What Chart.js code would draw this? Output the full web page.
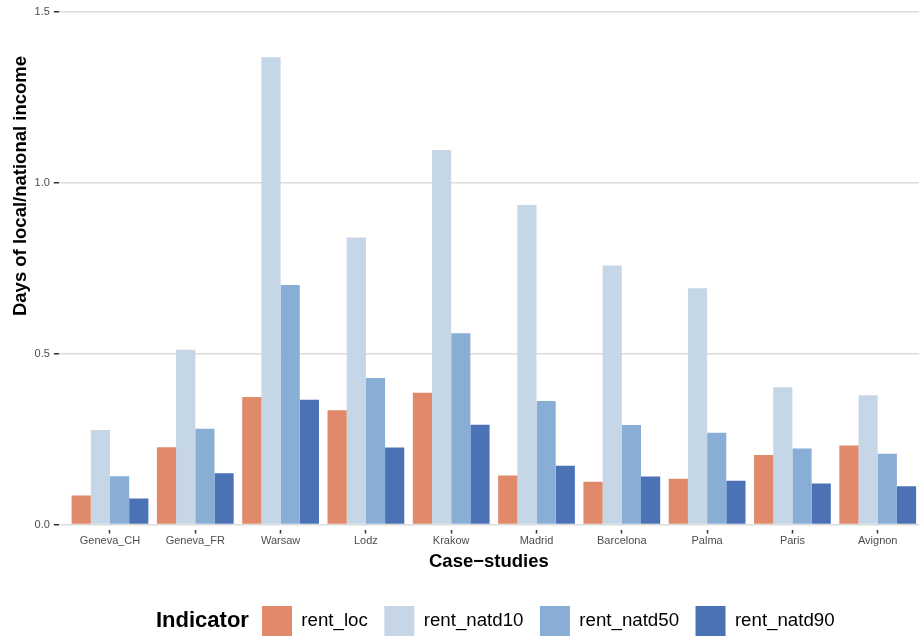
<!DOCTYPE html>
<html>
<head>
<meta charset="utf-8">
<script src="https://cdn.jsdelivr.net/npm/chart.js@4"></script>
<style>
html, body { margin: 0; padding: 0; background: #fff; overflow: hidden; }
#wrap { width: 919px; height: 646px; }
</style>
</head>
<body>
<div id="wrap"><canvas id="chart" width="919" height="646"></canvas></div>
<script>
// Data

var categories = ['Geneva_CH', 'Geneva_FR', 'Warsaw', 'Lodz', 'Krakow', 'Madrid', 'Barcelona', 'Palma', 'Paris', 'Avignon'];
var rent_loc    = [0.085, 0.226, 0.373, 0.334, 0.385, 0.143, 0.125, 0.134, 0.203, 0.231];
var rent_natd10 = [0.276, 0.511, 1.366, 0.839, 1.095, 0.934, 0.757, 0.691, 0.401, 0.378];
var rent_natd50 = [0.141, 0.280, 0.700, 0.428, 0.559, 0.361, 0.291, 0.268, 0.222, 0.207];
var rent_natd90 = [0.076, 0.150, 0.365, 0.225, 0.292, 0.172, 0.140, 0.128, 0.120, 0.112];
var seriesNames = ['rent_loc', 'rent_natd10', 'rent_natd50', 'rent_natd90'];
var yTicks = [0, 0.5, 1.0, 1.5];

var colors = ['#E08A6B', '#C5D6E7', '#89AED6', '#4A72B5'];
var FONT = "'Liberation Sans', Arial, Helvetica, sans-serif";

var series = [rent_loc, rent_natd10, rent_natd50, rent_natd90];
var datasets = series.map(function (vals, k) {
	return {
		label: seriesNames[k],
		data: vals.map(function (v, i) { return {x: i, y: v}; }),
		backgroundColor: colors[k],
		borderWidth: 0,
		categoryPercentage: 0.9,
		barPercentage: 1.0
	};
});

// legend title next to the keys + y axis title placed like the original
var extras = {
	id: 'extras',
	afterLayout: function (chart) {
		var lg = chart.legend;
		var pad = lg.options.labels.padding;
		// first key box starts at x = 262
		lg.left = 2 * 262 - pad - lg.right + lg.lineWidths[0];
	},
	afterDraw: function (chart) {
		var ctx = chart.ctx;
		ctx.save();
		ctx.fillStyle = '#000';
		ctx.font = 'bold 22px ' + FONT;
		ctx.textAlign = 'left';
		ctx.textBaseline = 'middle';
		ctx.fillText('Indicator', 156, 621);

		ctx.font = 'bold 18.5px ' + FONT;
		ctx.translate(26, 186);
		ctx.rotate(-Math.PI / 2);
		ctx.textAlign = 'center';
		ctx.textBaseline = 'alphabetic';
		ctx.fillText('Days of local/national income', 0, 0);
		ctx.restore();
	}
};

var ctx = document.getElementById('chart').getContext('2d');
var chart = new Chart(ctx, {
	type: 'bar',
	data: {datasets: datasets},
	plugins: [extras],
	options: {
		responsive: false,
		animation: false,
		layout: {padding: {top: 11.5, left: 0, right: 0, bottom: 0}},
		scales: {
			x: {
				type: 'linear',
				offset: false,
				min: -0.6,
				max: 9.484,
				afterBuildTicks: function (scale) {
					scale.ticks = categories.map(function (c, i) { return {value: i}; });
				},
				afterFit: function (scale) { scale.height = 65; },
				grid: {
					offset: false,
					drawOnChartArea: false,
					drawTicks: true,
					tickLength: 9,
					tickColor: '#333',
					tickWidth: 1.5,
					tickBorderDash: [0, 5, 4, 20]
				},
				border: {display: false},
				ticks: {
					callback: function (v) { return categories[v]; },
					font: {family: FONT, size: 11},
					color: '#4d4d4d',
					padding: 1,
					maxRotation: 0,
					autoSkip: false
				},
				title: {
					display: true,
					text: 'Case\u2212studies',
					font: {family: FONT, size: 18.5, weight: 'bold'},
					color: '#000',
					padding: {top: 0, bottom: 16}
				}
			},
			y: {
				min: 0,
				max: 1.5,
				afterBuildTicks: function (scale) {
					scale.ticks = yTicks.map(function (v) { return {value: v}; });
				},
				afterFit: function (scale) { scale.width = 58.8; },
				grid: {
					color: '#dcdcdc',
					lineWidth: 1.5,
					tickLength: 5,
					tickColor: '#333',
					tickWidth: 1.5
				},
				border: {display: false},
				ticks: {
					callback: function (v) { return v.toFixed(1); },
					font: {family: FONT, size: 11},
					color: '#4d4d4d',
					padding: 4
				}
			}
		},
		plugins: {
			legend: {
				position: 'bottom',
				align: 'center',
				labels: {
					boxWidth: 30,
					boxHeight: 30,
					padding: 16.5,
					font: {family: FONT, size: 18.7},
					color: '#000'
				}
			},
			tooltip: {enabled: false}
		}
	}
});
</script>
</body>
</html>
